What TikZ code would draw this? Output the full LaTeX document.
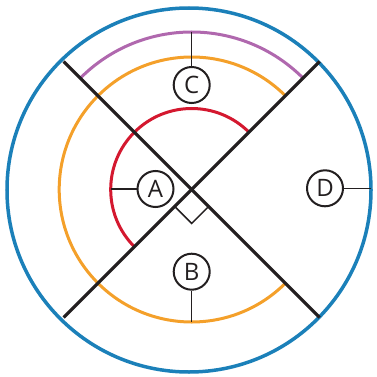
\documentclass[tikz,border=0pt]{standalone}
\usepackage{xcolor}
\usepackage{fontspec}
\setmainfont{Open Sans}
\usepackage{tikz}

\definecolor{ringblue}{HTML}{1B80B9}
\definecolor{ringpurple}{HTML}{B068AE}
\definecolor{ringorange}{HTML}{F4A02A}
\definecolor{ringred}{HTML}{D4182F}
\definecolor{crossblack}{HTML}{231F20}

\begin{document}
\begin{tikzpicture}[x=1pt, y=-1pt,
    letter/.style={circle, draw=crossblack, line width=2pt, minimum size=36pt,
                   inner sep=0pt, text=crossblack, font=\fontsize{24}{24}\selectfont},
    leader/.style={crossblack, line width=1.5pt}]
    \useasboundingbox (0,0) rectangle (376,377);
    \coordinate (O) at (191.7,189.5);
    \coordinate (Ob) at (189,190);

    % rings
    \draw[ringblue, line width=3.5pt] (Ob) circle (182pt);
    \draw[ringpurple, line width=3pt] (O) ++(45:157.5pt) arc (45:135:157.5pt);
    \draw[ringorange, line width=3pt] (O) ++(45:132.5pt) arc (45:315:132.5pt);
    \draw[ringred, line width=3pt] (O) ++(45:81pt) arc (45:225:81pt);

    % the cross
    \foreach \a/\n in {45/ne, 135/nw, 225/sw, 315/se}
        \path (O) ++(\a:181pt) coordinate (\n);
    \draw[crossblack, line width=3.2pt] (nw) -- (se);
    \draw[crossblack, line width=3.2pt] (ne) -- (sw);
    \draw[crossblack, line width=1.5pt] (O) ++(225:24pt) -- ++(-45:24pt) -- ++(45:24pt);

    % labels
    \node[letter] (a) at (155.5,189) {A};
    \node[letter] (b) at (191.7,271.7) {B};
    \node[letter] (c) at (191.7,85) {C};
    \node[letter] (d) at (325,188.3) {D};

    \path (O) ++(180:81pt) coordinate (redleft);
    \path (O) ++(90:157.5pt) coordinate (purpletop);
    \path (O) ++(270:132.5pt) coordinate (orangebottom);
    \path (Ob) ++(0:182pt) coordinate (blueright);
    \draw[leader] (a -| redleft) -- (a);
    \draw[leader] (purpletop) -- (c);
    \draw[leader] (b) -- (orangebottom);
    \draw[leader] (d) -- (d -| blueright);
\end{tikzpicture}
\end{document}
